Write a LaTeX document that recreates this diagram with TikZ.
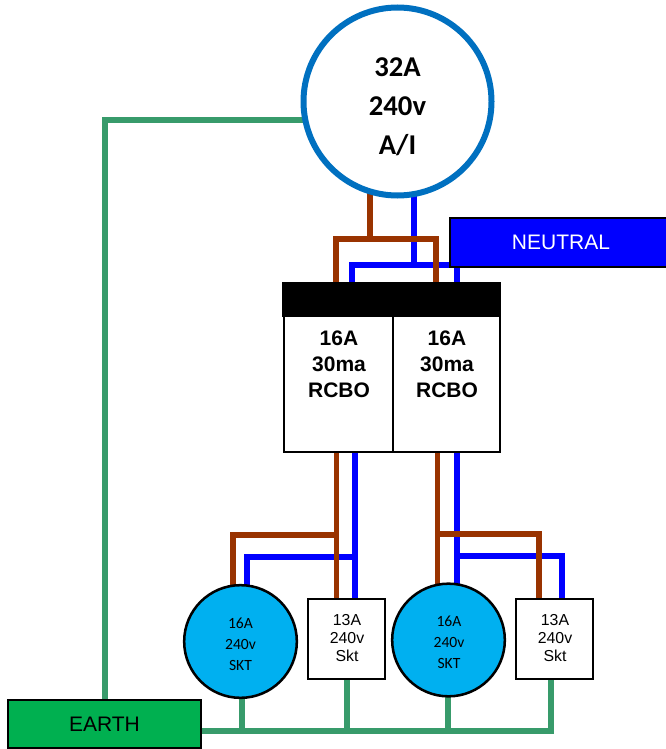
\documentclass[tikz,border=0pt]{standalone}
\usepackage{fontspec}
\setmainfont{Liberation Sans}
\newfontfamily\carlito{Carlito}
\usetikzlibrary{backgrounds}
\definecolor{wireearth}{HTML}{389B6B}
\definecolor{wirelive}{HTML}{993300}
\definecolor{wireneutral}{HTML}{0000FF}
\definecolor{ringblue}{HTML}{0070C0}
\definecolor{sktblue}{HTML}{00B0F0}
\definecolor{earthgreen}{HTML}{00B050}
\tikzset{
  x=0.75pt, y=-0.75pt,
  earthwire/.style={draw=wireearth, line width=4.1pt},
  livewire/.style={draw=wirelive, line width=4.1pt},
  neutralwire/.style={draw=wireneutral, line width=4.1pt},
  boxed/.style 2 args={draw=black, line width=1.5pt, outer sep=0pt, inner sep=0pt, minimum width=#1*0.75pt, minimum height=#2*0.75pt},
  mainring/.style={circle, draw=ringblue, fill=white, line width=4.5pt, outer sep=0pt, inner sep=0pt, minimum size=141pt},
  sktcircle/.style={circle, draw=black, fill=sktblue, line width=1.9pt, outer sep=0pt, inner sep=0pt, minimum size=84.5pt},
  maintext/.style={align=center, inner sep=0pt, font=\carlito\bfseries\fontsize{21.5}{29.25}\selectfont},
  rcbotext/.style={align=center, inner sep=0pt, font=\bfseries\fontsize{15.75}{19.5}\selectfont},
  sktcircletext/.style={align=center, inner sep=0pt, font=\carlito\fontsize{11.7}{15.9}\selectfont},
  sktboxtext/.style={align=center, inner sep=0pt, font=\fontsize{11.9}{13.6}\selectfont},
  bigtag/.style={font=\fontsize{15.75}{18}\selectfont},
}
\begin{document}
\begin{tikzpicture}
\useasboundingbox (0,0) rectangle (666,749);
% nodes
\node[mainring] (ai) at (397.5,101.5) {};
\node[maintext] (aitext) at (397.5,107) {32A\\240v\\A/I};
\node[boxed={217}{33}, fill=black] (bar) at (391.5,299.5) {};
\node[boxed={109}{136}, fill=white] (rcboa) at (338.5,383.5) {};
\node[boxed={107}{136}, fill=white] (rcbob) at (446.5,383.5) {};
\node[rcbotext] (rcboatext) at (339,364) {16A\\30ma\\RCBO};
\node[rcbotext] (rcbobtext) at (447,364) {16A\\30ma\\RCBO};
\node[boxed={222}{49}, fill=wireneutral, text=white, bigtag] (neutral) at (561,242) {NEUTRAL};
\node[boxed={192.5}{48}, fill=earthgreen, bigtag] (earth) at (104.5,724) {EARTH};
\node[sktcircle] (skta) at (240.5,641.5) {};
\node[sktcircletext] (sktatext) at (240.5,644) {16A\\240v\\SKT};
\node[sktcircle] (sktb) at (448.5,640) {};
\node[sktcircletext] (sktbtext) at (449,642) {16A\\240v\\SKT};
\node[boxed={77}{80}, fill=white] (boxa) at (346.5,639) {};
\node[sktboxtext] (boxatext) at (347,638) {13A\\240v\\Skt};
\node[boxed={77}{80}, fill=white] (boxb) at (554.5,639) {};
\node[sktboxtext] (boxbtext) at (555,638) {13A\\240v\\Skt};
% junction points
\coordinate (earthcorner) at (105,120);
\coordinate (bus) at (0,731);
\coordinate (riseskta) at (242,0);
\coordinate (riseboxa) at (347,0);
\coordinate (risesktb) at (448,0);
\coordinate (riseboxb) at (551,0);
\coordinate (livetop) at (370,239);
\coordinate (neutop) at (414,265);
\coordinate (liveA) at (336,239);
\coordinate (liveB) at (436,239);
\coordinate (neuA) at (352,265);
\coordinate (neuB) at (457,265);
\coordinate (aL) at (233,535);
\coordinate (aLj) at (336.5,535);
\coordinate (aN) at (247,557);
\coordinate (aNj) at (355,557);
\coordinate (bLj) at (437.5,534);
\coordinate (bL) at (539,534);
\coordinate (bNj) at (457,556);
\coordinate (bN) at (562,556);
\begin{scope}[on background layer]
  % earth
  \draw[earthwire] (earth.north -| earthcorner) -- (earthcorner) -- (ai.center |- earthcorner);
  \draw[earthwire] (earth.east |- bus) -- (riseboxb |- bus) -- (riseboxb |- boxb.center);
  \draw[earthwire] (riseskta |- skta.center) -- (riseskta |- bus);
  \draw[earthwire] (riseboxa |- boxa.center) -- (riseboxa |- bus);
  \draw[earthwire] (risesktb |- sktb.center) -- (risesktb |- bus);
  % neutral
  \draw[neutralwire] (ai.center -| neutop) -- (neutop);
  \draw[neutralwire] (bar.center -| neuA) -- (neuA) -- (neuB) -- (bar.center -| neuB);
  \draw[neutralwire] (rcboa.center -| aNj) -- (boxa.center -| aNj);
  \draw[neutralwire] (aNj) -- (aN) -- (skta.center -| aN);
  \draw[neutralwire] (rcbob.center -| bNj) -- (sktb.center -| bNj);
  \draw[neutralwire] (bNj) -- (bN) -- (boxb.center -| bN);
  % live
  \draw[livewire] (ai.center -| livetop) -- (livetop);
  \draw[livewire] (bar.center -| liveA) -- (liveA) -- (liveB) -- (bar.center -| liveB);
  \draw[livewire] (rcboa.center -| aLj) -- (boxa.center -| aLj);
  \draw[livewire] (aLj) -- (aL) -- (skta.center -| aL);
  \draw[livewire] (rcbob.center -| bLj) -- (sktb.center -| bLj);
  \draw[livewire] (bLj) -- (bL) -- (boxb.center -| bL);
\end{scope}
\end{tikzpicture}
\end{document}
